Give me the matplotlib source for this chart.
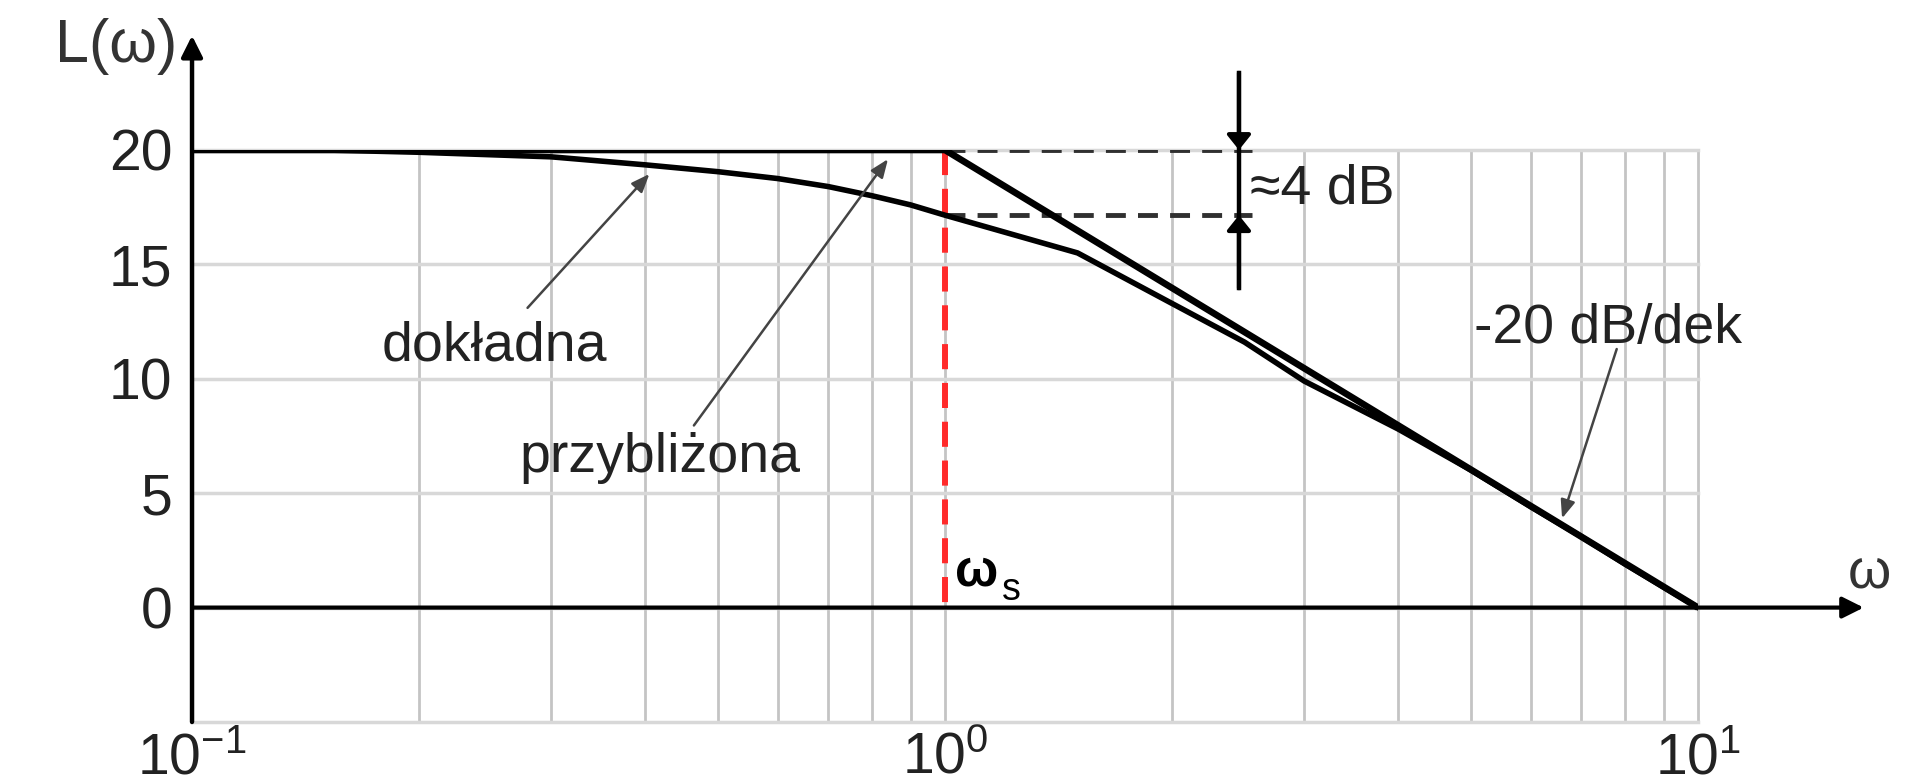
import matplotlib
matplotlib.use("Agg")
import matplotlib.pyplot as plt
from matplotlib.ticker import NullFormatter

plt.rcParams['font.family'] = ['Liberation Sans', 'DejaVu Sans']
plt.rcParams['mathtext.fontset'] = 'custom'
plt.rcParams['mathtext.rm'] = 'Liberation Sans'
plt.rcParams['mathtext.it'] = 'Liberation Sans'

# asymptotic (approximate) characteristic
w_approx = [0.1, 1.0, 10.0]
L_approx = [20.0, 20.0, 0.0]

# exact characteristic
w_exact = [0.1, 0.15, 0.2, 0.3, 0.4, 0.5, 0.6, 0.7, 0.8, 0.9, 1.0,
           1.5, 2.0, 2.5, 3.0, 4.0, 5.0, 6.0, 7.0, 8.0, 10.0]
L_exact = [20.0, 20.0, 19.9, 19.7, 19.35, 19.05, 18.75, 18.4, 18.0, 17.6, 17.15,
           15.5, 13.3, 11.6, 9.9, 7.8, 6.0, 4.4, 3.1, 1.9, 0.0]

y_ticks = [-5, 0, 5, 10, 15, 20]
y_labels = ['', '0', '5', '10', '15', '20']
x_ticks = [0.1, 1, 10]
x_labels = [r'$10^{-1}$', r'$10^{0}$', r'$10^{1}$']

w_s = 1.0
L_low = 17.15      # exact value at corner frequency
w_dim = 2.457      # position of the "~4 dB" dimension arrow
w_dash_end = 2.56

fig = plt.figure(figsize=(19.26, 7.84), dpi=100)
ax = fig.add_axes([0.0997, 0.0791, 0.7819, 0.7296])
ax.set_xscale('log')
ax.set_xlim(0.1, 10)
ax.set_ylim(-5, 20)
for s in ax.spines.values():
    s.set_visible(False)

ax.set_yticks(y_ticks)
ax.set_yticklabels(y_labels)
ax.set_xticks(x_ticks)
ax.set_xticklabels(x_labels)
ax.xaxis.set_minor_formatter(NullFormatter())
ax.tick_params(which='both', length=0)
ax.tick_params(axis='y', pad=14, labelsize=41, labelcolor='#222222')
ax.tick_params(axis='x', pad=7, labelsize=41, labelcolor='#222222')

ax.grid(True, which='both', axis='x', color='#c4c4c4', lw=2, clip_on=False)
ax.grid(True, which='major', axis='y', color='#d8d8d8', lw=2.5, clip_on=False)
ax.set_axisbelow(True)

# axes with arrows
ax.annotate('', xy=(0.1, 25), xytext=(0.1, -5), annotation_clip=False,
            arrowprops=dict(arrowstyle='-|>', lw=3.2, color='black',
                            mutation_scale=32, shrinkA=0, shrinkB=0))
ax.annotate('', xy=(16.6, 0), xytext=(0.1, 0), annotation_clip=False,
            arrowprops=dict(arrowstyle='-|>', lw=3, color='black',
                            mutation_scale=32, shrinkA=0, shrinkB=0))

# red dashed line at corner frequency
ax.plot([w_s, w_s], [20, 0], color='#ff2a2a', lw=4.3, dashes=(4.2, 2.3), zorder=3)

# dashed helper lines
ax.plot([w_s, w_dash_end], [20, 20], color='#303030', lw=3.5, dashes=(4.1, 2.5), zorder=3)
ax.plot([w_s, w_dash_end], [L_low, L_low], color='#303030', lw=3.5, dashes=(4.1, 2.5), zorder=3)

# characteristics
ax.plot(w_approx, L_approx, color='black', lw=4.8, zorder=5, solid_capstyle='butt')
ax.plot(w_exact, L_exact, color='black', lw=4.0, zorder=5)

# dimension arrow ~4 dB
ax.plot([w_dim, w_dim], [23.37, 13.96], color='black', lw=3.2, clip_on=False, zorder=6)
head = dict(arrowstyle='-|>,head_length=0.25,head_width=0.2', lw=3, color='black',
            mutation_scale=36, shrinkA=0, shrinkB=0)
ax.annotate('', xy=(w_dim, 20.0), xytext=(w_dim, 23.37), arrowprops=head,
            annotation_clip=False, zorder=6)
ax.annotate('', xy=(w_dim, L_low), xytext=(w_dim, 13.96), arrowprops=head,
            annotation_clip=False, zorder=6)
ax.text(2.54, 17.68, '≈4 dB', fontsize=40, color='#222222', ha='left', va='baseline')

# labelled arrows
thin = dict(arrowstyle='-|>,head_length=0.5,head_width=0.2', lw=1.8, color='#444444',
            mutation_scale=22, shrinkA=0, shrinkB=0)
ax.annotate('', xy=(0.405, 18.95), xytext=(0.279, 13.1), arrowprops=thin, zorder=6)
ax.text(0.252, 10.8, 'dokładna', fontsize=40, color='#222222', ha='center', va='baseline')
ax.annotate('', xy=(0.84, 19.6), xytext=(0.464, 7.96), arrowprops=thin, zorder=6)
ax.text(0.418, 5.91, 'przybliżona', fontsize=40, color='#222222', ha='center', va='baseline')
ax.annotate('', xy=(6.6, 3.9), xytext=(7.8, 11.3), arrowprops=thin, zorder=6)
ax.text(7.6, 11.55, '-20 dB/dek', fontsize=40, color='#222222', ha='center', va='baseline')

# omega_s label
ax.text(1.03, 0.96, 'ω', fontsize=37, fontweight='bold', ha='left', va='baseline')
ax.text(1.19, 0.31, 's', fontsize=27, ha='left', va='baseline')

# axis labels
ax.text(15.8, 0.83, 'ω', fontsize=40, color='#333333', ha='left', va='baseline')
fig.text(55 / 1926, 1 - 62 / 784, 'L(ω)', fontsize=44, color='#333333',
         ha='left', va='baseline')

fig.savefig('out.png', dpi=100)
